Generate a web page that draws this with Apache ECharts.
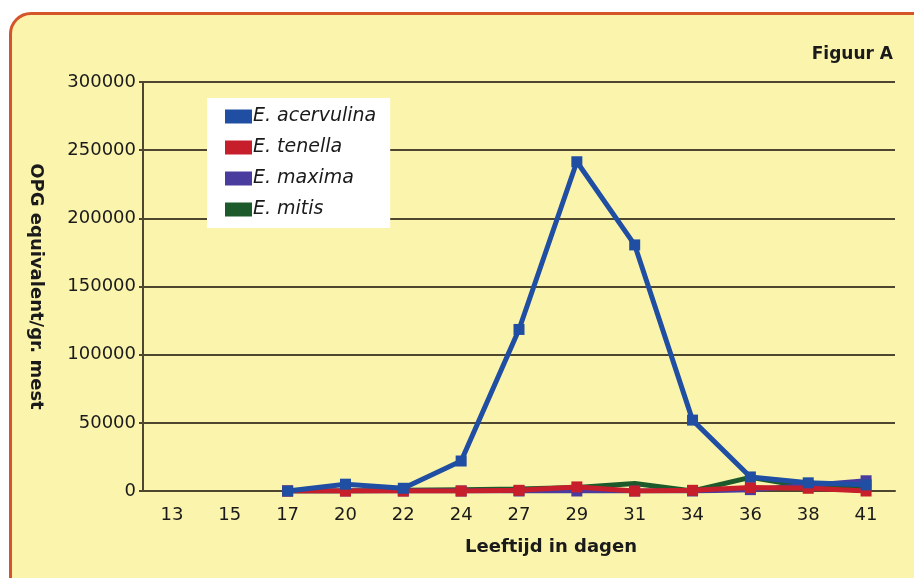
<!DOCTYPE html>
<html>
<head>
<meta charset="utf-8">
<script src="https://cdn.jsdelivr.net/npm/echarts@6/dist/echarts.min.js"></script>
<style>
  html, body { margin: 0; padding: 0; background: #fff; width: 914px; height: 578px; overflow: hidden; }
  #frame { position: absolute; left: 9px; top: 12px; width: 930px; height: 600px;
           border: 3px solid #d4552a; border-radius: 22px; background: #fbf4ad; }
  #chart { position: absolute; left: 0; top: 0; width: 914px; height: 578px; }
</style>
</head>
<body>
<div id="frame"></div>
<div id="chart"></div>
<script>
// leeftijd in dagen
var days = ['13', '15', '17', '20', '22', '24', '27', '29', '31', '34', '36', '38', '41'];
var seriesNames = ['E. acervulina', 'E. tenella', 'E. maxima', 'E. mitis'];
var acervulina = [null, null, 0, 5000, 2000, 22000, 118500, 241500, 180500, 52000, 10300, 6000, 4500];
var tenella    = [null, null, 0, 0, 0, 0, 500, 3000, 0, 500, 2500, 2000, 0];
var maxima     = [null, null, 0, 0, 0, 0, 0, 0, 0, 0, 1000, 4000, 7500];
var mitis      = [null, null, 0, 0, 500, 1000, 1500, 2500, 5500, 0, 10000, 3000, 2000];
var yTicks = [0, 50000, 100000, 150000, 200000, 250000, 300000];
var colors = ['#1f4ea3', '#c61f2b', '#4a3c9e', '#1d5a2b'];

var chart = echarts.init(document.getElementById('chart'));
var font = 'DejaVu Sans';
var gridColor = '#4f4630';

function mkSeries(idx, data, withMarker) {
  return {
    name: seriesNames[idx],
    type: 'line',
    data: data,
    symbol: withMarker ? 'rect' : 'none',
    symbolSize: 11,
    showSymbol: withMarker,
    lineStyle: { width: 5, color: colors[idx] },
    itemStyle: { color: colors[idx] },
    z: 10 - idx
  };
}

var option = {
  animation: false,
  backgroundColor: 'transparent',
  textStyle: { fontFamily: font },
  title: {
    text: 'Figuur A',
    right: 16, top: 41,
    textStyle: { fontFamily: font, fontSize: 17, fontWeight: 'bold', color: '#1a1a1a' }
  },
  grid: { left: 143, right: 19, top: 82, bottom: 87 },
  legend: {
    orient: 'vertical',
    left: 207, top: 98,
    backgroundColor: '#ffffff',
    padding: [9, 14, 9, 18],
    itemWidth: 27, itemHeight: 14, itemGap: 12,
    icon: 'rect',
    data: seriesNames,
    textStyle: { fontFamily: font, fontSize: 19, fontStyle: 'italic', color: '#1a1a1a', padding: [0, 0, 0, -4] }
  },
  xAxis: {
    type: 'category',
    data: days,
    boundaryGap: true,
    name: 'Leeftijd in dagen',
    nameLocation: 'middle',
    nameGap: 47,
    nameTextStyle: { fontFamily: font, fontSize: 18, fontWeight: 'bold', color: '#1a1a1a', padding: [0, 0, 0, 64] },
    axisLine: { show: true, lineStyle: { color: gridColor, width: 2 } },
    axisTick: { show: false },
    axisLabel: { fontFamily: font, fontSize: 18, color: '#1a1a1a', margin: 15 },
    splitLine: { show: false }
  },
  yAxis: {
    type: 'value',
    min: yTicks[0], max: yTicks[yTicks.length - 1], interval: 50000,
    name: 'OPG equivalent/gr. mest',
    nameLocation: 'middle',
    nameGap: 98,
    nameRotate: -90,
    nameTextStyle: { fontFamily: font, fontSize: 18, fontWeight: 'bold', color: '#1a1a1a' },
    axisLine: { show: true, lineStyle: { color: gridColor, width: 2 } },
    axisTick: { show: true, length: 4, lineStyle: { color: gridColor, width: 2 } },
    axisLabel: { fontFamily: font, fontSize: 18, color: '#1a1a1a', margin: 7,
                 formatter: function (v) { return String(v); } },
    splitLine: { show: true, lineStyle: { color: gridColor, width: 2 } }
  },
  series: [
    mkSeries(0, acervulina, true),
    mkSeries(1, tenella, true),
    mkSeries(2, maxima, true),
    mkSeries(3, mitis, false)
  ]
};
chart.setOption(option);
</script>
</body>
</html>
